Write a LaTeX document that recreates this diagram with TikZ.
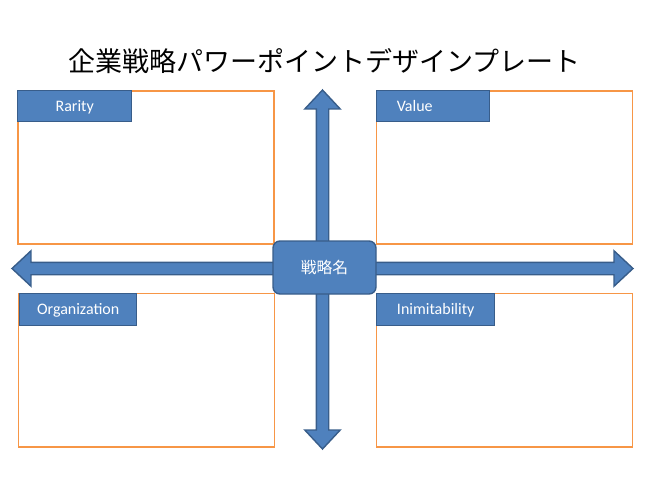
\documentclass[tikz,border=0pt]{standalone}
\usepackage{fontspec}
\setmainfont{Carlito}
\newfontfamily\cjk{Noto Sans CJK JP}
\usepackage{tikz}
\usetikzlibrary{shapes.arrows}
\definecolor{blockblue}{HTML}{4F81BD}
\definecolor{blockedge}{HTML}{385D8A}
\definecolor{frameorange}{HTML}{F79646}
\tikzstyle{panel}=[draw=frameorange, line width=1.8pt, anchor=north west, inner sep=0pt, minimum width=256pt, minimum height=153.5pt]
\tikzstyle{tab}=[draw=blockedge, fill=blockblue, line width=1.4pt, anchor=north west, inner sep=0pt, text=white, text height=10pt, text depth=0pt, font=\fontsize{16}{18}\selectfont]
\tikzstyle{blockarrow}=[draw=blockedge, fill=blockblue, line width=1.4pt, double arrow, inner sep=0pt, minimum width=34pt, text height=11pt, text depth=0pt, text width=0pt, double arrow tip angle=86, double arrow head extend=11.5pt]

\begin{document}
\begin{tikzpicture}[x=1pt, y=-1pt]
\useasboundingbox (0, 0) rectangle (650, 487);
\node[font=\cjk\fontsize{27}{30}\selectfont] (title) at (324.5, 61) {企業戦略パワーポイントデザインプレート};
% frames
\foreach \name/\x/\y in {rarityframe/17/89.8, valueframe/375.5/89.8, orgframe/17.5/292.5, inimframe/375.5/292.5}
\node[panel] (\name) at (\x, \y) {};
% tabs
\node[tab, minimum width=114pt, minimum height=31pt] (rarity) at (17, 90) {Rarity};
\node[tab, minimum width=113pt, minimum height=31pt] (value) at (376, 90) {Value\hspace{37pt}\mbox{}};
\node[tab, minimum width=117pt, minimum height=32pt] (org) at (19, 293) {Organization};
\node[tab, minimum width=118pt, minimum height=32pt] (inim) at (376, 293) {Inimitability};
% arrows
\node[blockarrow, minimum height=359pt, rotate=90] (vert) at (322.5, 269.5) {};
\node[blockarrow, minimum height=621pt] (horiz) at (322.5, 268.5) {};
\node[draw=blockedge, fill=blockblue, line width=1.4pt, rounded corners=7pt, minimum width=103pt, minimum height=53pt, inner sep=0pt, text=white, font=\cjk\fontsize{15.8}{18}\selectfont] (strategy) at (324.5, 267.5) {\raisebox{-1pt}{戦略名}};
\end{tikzpicture}
\end{document}
